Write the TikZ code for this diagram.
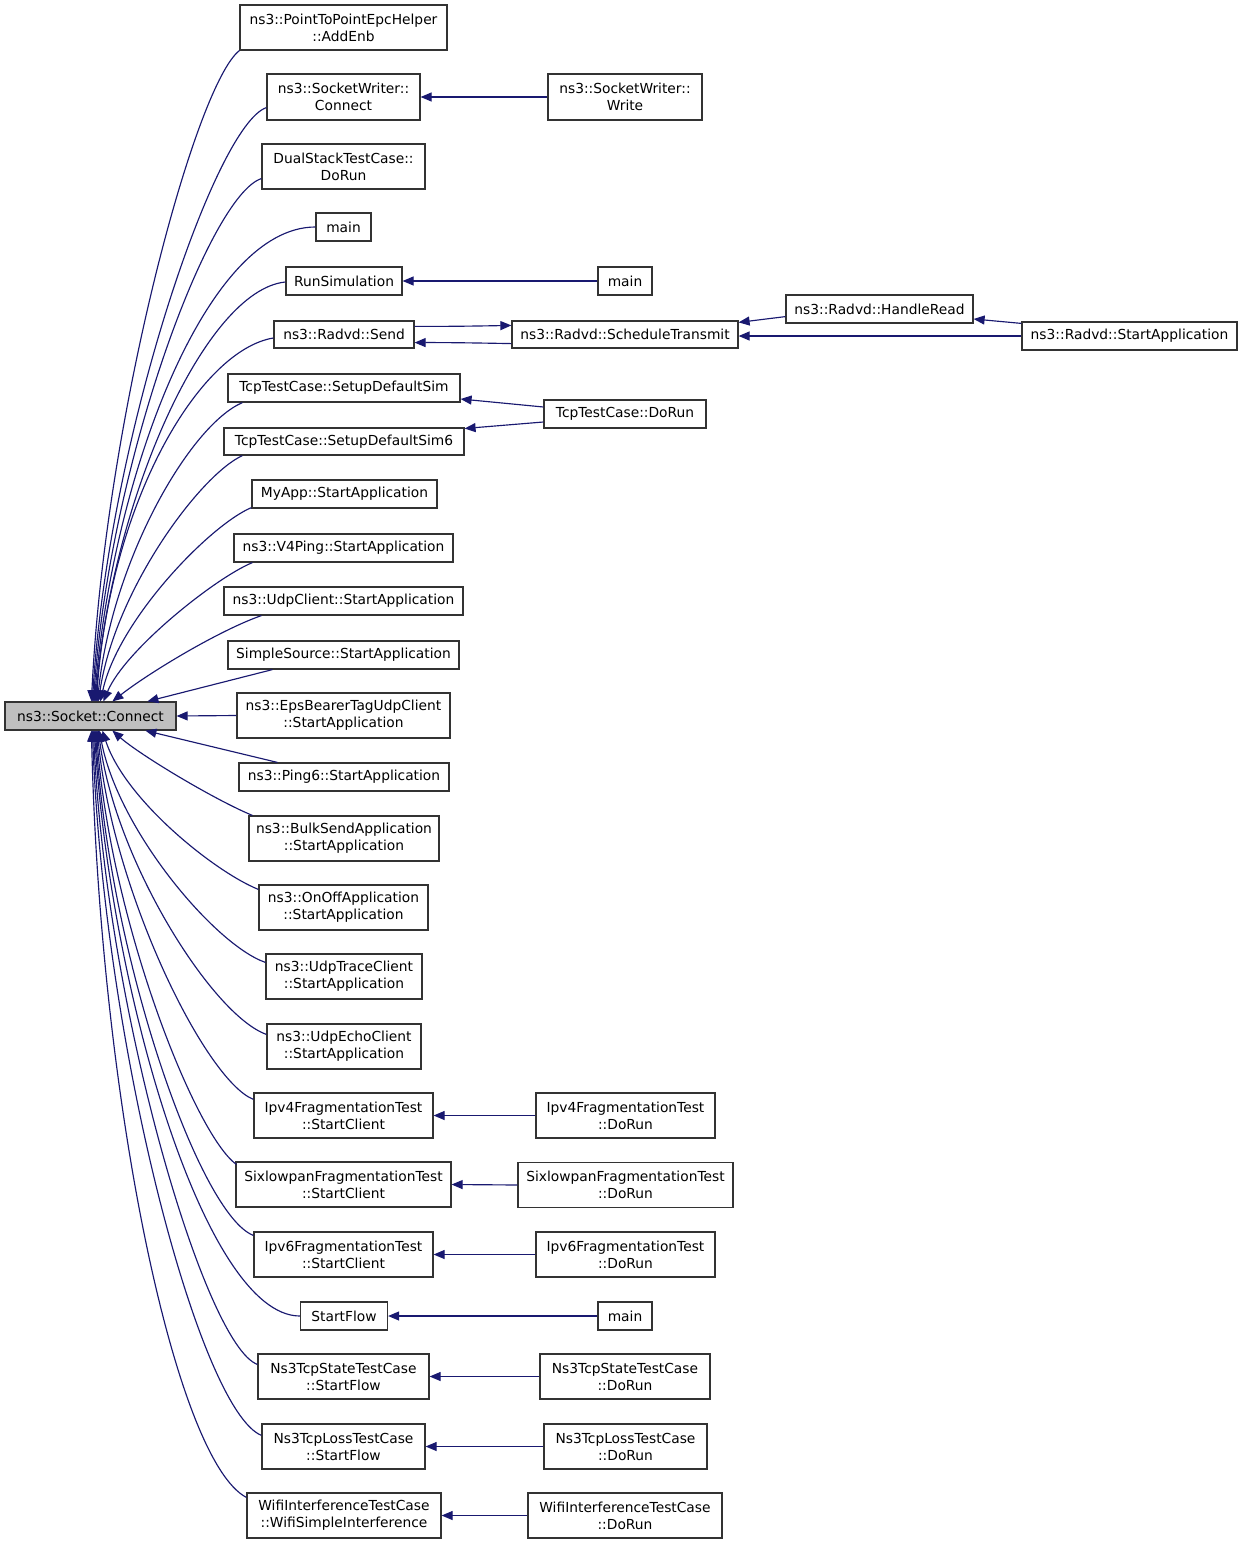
\documentclass[tikz,border=0pt]{standalone}
\usepackage{fontspec}
\setmainfont{DejaVu Sans}
\usetikzlibrary{arrows.meta,calc}
\definecolor{edgeblue}{HTML}{191970}
\definecolor{nodegray}{HTML}{BFBFBF}
\begin{document}
\begin{tikzpicture}[x=1pt,y=-1pt,
  box/.style={draw=black!80, line width=1.2pt, fill=white, inner sep=0pt, align=center,
    font=\fontsize{13.8}{17}\selectfont, text=black},
  sz/.style 2 args={minimum width=#1, minimum height=#2},
  edge/.style={draw=edgeblue, line width=1.15pt, -{Triangle[length=11pt,width=9pt]}}]
\useasboundingbox (0,0) rectangle (1243,1544);

% nodes
\node[box, sz={171}{28}, fill=nodegray] (connect) at (90.5,716) {ns3::Socket::Connect};
\node[box, sz={207}{45}] (addenb) at (343.5,27.5) {ns3::PointToPointEpcHelper\\::AddEnb};
\node[box, sz={153}{46}] (swconn) at (343.5,97) {ns3::SocketWriter::\\Connect};
\node[box, sz={154}{46}] (swwrite) at (625,97) {ns3::SocketWriter::\\Write};
\node[box, sz={163}{45}] (dualstack) at (343.5,166.5) {DualStackTestCase::\\DoRun};
\node[box, sz={55}{28}] (main1) at (343.5,227) {main};
\node[box, sz={116}{28}] (runsim) at (344,281) {RunSimulation};
\node[box, sz={54}{28}] (main2) at (625,281) {main};
\node[box, sz={140}{27}] (send) at (344,334.5) {ns3::Radvd::Send};
\node[box, sz={226}{27}] (sched) at (625,334.5) {ns3::Radvd::ScheduleTransmit};
\node[box, sz={187}{28}] (handleread) at (879.5,309) {ns3::Radvd::HandleRead};
\node[box, sz={215}{28}] (radvdstart) at (1129.5,336) {ns3::Radvd::StartApplication};
\node[box, sz={232}{28}] (setup) at (344,388) {TcpTestCase::SetupDefaultSim};
\node[box, sz={162}{28}] (tcpdorun) at (625,414) {TcpTestCase::DoRun};
\node[box, sz={240}{27}] (setup6) at (344,441.5) {TcpTestCase::SetupDefaultSim6};
\node[box, sz={185}{28}] (myapp) at (344.5,494) {MyApp::StartApplication};
\node[box, sz={219}{28}] (v4ping) at (343.5,548) {ns3::V4Ping::StartApplication};
\node[box, sz={239}{28}] (udpclient) at (343.5,601) {ns3::UdpClient::StartApplication};
\node[box, sz={231}{28}] (simplesource) at (343.5,655) {SimpleSource::StartApplication};
\node[box, sz={213}{45}] (eps) at (343.5,715.5) {ns3::EpsBearerTagUdpClient\\::StartApplication};
\node[box, sz={210}{28}] (ping6) at (344,777) {ns3::Ping6::StartApplication};
\node[box, sz={190}{45}] (bulk) at (344,838.5) {ns3::BulkSendApplication\\::StartApplication};
\node[box, sz={169}{45}] (onoff) at (343.5,907.5) {ns3::OnOffApplication\\::StartApplication};
\node[box, sz={156}{45}] (udptrace) at (344,976.5) {ns3::UdpTraceClient\\::StartApplication};
\node[box, sz={154}{45}] (udpecho) at (344,1046.5) {ns3::UdpEchoClient\\::StartApplication};
\node[box, sz={179}{45}] (ipv4sc) at (343.5,1115.5) {Ipv4FragmentationTest\\::StartClient};
\node[box, sz={179}{45}] (ipv4dr) at (625.5,1115.5) {Ipv4FragmentationTest\\::DoRun};
\node[box, sz={215}{45}] (sixsc) at (343.5,1184.5) {SixlowpanFragmentationTest\\::StartClient};
\node[box, sz={215}{45}] (sixdr) at (625.5,1185) {SixlowpanFragmentationTest\\::DoRun};
\node[box, sz={179}{45}] (ipv6sc) at (343.5,1254.5) {Ipv6FragmentationTest\\::StartClient};
\node[box, sz={179}{45}] (ipv6dr) at (625.5,1254.5) {Ipv6FragmentationTest\\::DoRun};
\node[box, sz={87}{28}] (startflow) at (344,1316) {StartFlow};
\node[box, sz={54}{28}] (main3) at (625,1316) {main};
\node[box, sz={171}{45}] (tcpstatesf) at (343.5,1376.5) {Ns3TcpStateTestCase\\::StartFlow};
\node[box, sz={170}{45}] (tcpstatedr) at (625,1376.5) {Ns3TcpStateTestCase\\::DoRun};
\node[box, sz={163}{45}] (tcplosssf) at (343.5,1446.5) {Ns3TcpLossTestCase\\::StartFlow};
\node[box, sz={163}{45}] (tcplossdr) at (625.5,1446.5) {Ns3TcpLossTestCase\\::DoRun};
\node[box, sz={194}{45}] (wifisf) at (344,1515.5) {WifiInterferenceTestCase\\::WifiSimpleInterference};
\node[box, sz={194}{45}] (wifidr) at (625,1515.5) {WifiInterferenceTestCase\\::DoRun};

% upper fan into ns3::Socket::Connect
\draw[edge] (addenb.south west) .. controls (195,85) and (105,420) .. ($(connect.north west)+(87,0)$);
\draw[edge] ($(swconn.south west)+(0,-13)$) .. controls (215,125) and (108,440) .. ($(connect.north west)+(88,0)$);
\draw[edge] ($(dualstack.south west)+(0,-11)$) .. controls (210,195) and (110,460) .. ($(connect.north west)+(89,0)$);
\draw[edge] (main1.west) .. controls (205,227) and (112,480) .. ($(connect.north west)+(90,0)$);
\draw[edge] ($(runsim.west)+(0,1)$) .. controls (205,290) and (112,500) .. ($(connect.north west)+(91,0)$);
\draw[edge] ($(send.west)+(0,3.5)$) .. controls (200,350) and (110,500) .. ($(connect.north west)+(92,0)$);
\draw[edge] ($(setup.south west)+(15,0)$) .. controls (190,425) and (112,560) .. ($(connect.north west)+(93,0)$);
\draw[edge] ($(setup6.south west)+(19,0)$) .. controls (200,475) and (115,590) .. ($(connect.north west)+(94,0)$);
\draw[edge] ($(myapp.south west)+(0,-1)$) .. controls (210,525) and (118,620) .. ($(connect.north west)+(96,0)$);
\draw[edge] ($(v4ping.south west)+(19,0)$) .. controls (215,578) and (125,650) .. ($(connect.north west)+(99,0)$);
\draw[edge] ($(udpclient.south west)+(38,0)$) .. controls (220,630) and (150,672) .. ($(connect.north west)+(108,0)$);
\draw[edge] ($(simplesource.south west)+(45,0)$) -- ($(connect.north west)+(143,0)$);
% horizontal
\draw[edge] (eps.west) -- (connect.east);
% lower fan
\draw[edge] ($(ping6.north west)+(39,0)$) -- ($(connect.south west)+(141,0)$);
\draw[edge] ($(bulk.north west)+(4,0)$) .. controls (215,800) and (140,755) .. ($(connect.south west)+(108,0)$);
\draw[edge] ($(onoff.north west)+(0,5)$) .. controls (215,872) and (125,800) .. ($(connect.south west)+(98,0)$);
\draw[edge] ($(udptrace.north west)+(0,9)$) .. controls (215,945) and (118,830) .. ($(connect.south west)+(95,0)$);
\draw[edge] ($(udpecho.north west)+(0,11)$) .. controls (212,1015) and (115,860) .. ($(connect.south west)+(94,0)$);
\draw[edge] ($(ipv4sc.north west)+(0,7)$) .. controls (205,1080) and (112,890) .. ($(connect.south west)+(93,0)$);
\draw[edge] ($(sixsc.north west)+(1,3)$) .. controls (195,1135) and (110,920) .. ($(connect.south west)+(92,0)$);
\draw[edge] ($(ipv6sc.north west)+(0,4)$) .. controls (200,1215) and (110,960) .. ($(connect.south west)+(91,0)$);
\draw[edge] (startflow.west) .. controls (205,1316) and (110,990) .. ($(connect.south west)+(90,0)$);
\draw[edge] ($(tcpstatesf.north west)+(0,11)$) .. controls (205,1345) and (106,1010) .. ($(connect.south west)+(89,0)$);
\draw[edge] ($(tcplosssf.north west)+(0,12)$) .. controls (200,1410) and (104,1050) .. ($(connect.south west)+(88,0)$);
\draw[edge] ($(wifisf.north west)+(0,5)$) .. controls (175,1460) and (100,1100) .. ($(connect.south west)+(87,0)$);

% right-side connectors
\draw[edge] (swwrite.west) -- (swconn.east);
\draw[edge] (main2.west) -- (runsim.east);
\draw[edge] ($(send.north east)+(0,6)$) .. controls (450,326.5) and (480,326) .. ($(sched.north west)+(0,5)$);
\draw[edge] ($(sched.south west)+(0,-5)$) .. controls (480,343) and (450,342.5) .. ($(send.south east)+(0,-6)$);
\draw[edge] ($(handleread.south west)+(0,-7)$) -- ($(sched.north east)+(0,2)$);
\draw[edge] (radvdstart.west) -- ($(sched.east)+(0,1.5)$);
\draw[edge] ($(radvdstart.north west)+(0,2)$) -- ($(handleread.east)+(0,10)$);
\draw[edge] ($(tcpdorun.west)+(0,-7)$) -- ($(setup.east)+(0,11)$);
\draw[edge] ($(tcpdorun.west)+(0,8)$) -- ($(setup6.east)+(0,-13)$);
\draw[edge] (ipv4dr.west) -- (ipv4sc.east);
\draw[edge] (sixdr.west) -- (sixsc.east);
\draw[edge] (ipv6dr.west) -- (ipv6sc.east);
\draw[edge] (main3.west) -- (startflow.east);
\draw[edge] (tcpstatedr.west) -- (tcpstatesf.east);
\draw[edge] (tcplossdr.west) -- (tcplosssf.east);
\draw[edge] (wifidr.west) -- (wifisf.east);
\end{tikzpicture}
\end{document}
